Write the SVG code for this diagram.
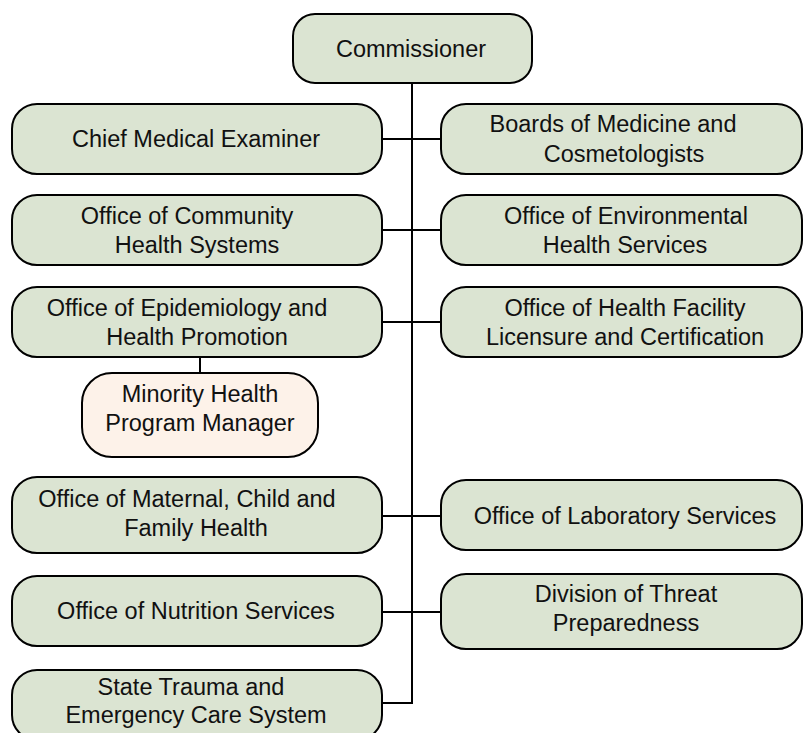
<svg xmlns="http://www.w3.org/2000/svg" width="804" height="733" viewBox="0 0 804 733">
<style>
.n{fill:#dbe4d2;stroke:#000;stroke-width:2}
.p{fill:#fdf2e9;stroke:#000;stroke-width:2}
.c{fill:none;stroke:#000;stroke-width:2}
text{font-family:"Liberation Sans",Arial,sans-serif;font-size:23.5px;fill:#111;text-anchor:middle}
</style>
<rect width="804" height="733" fill="#fff"/>
<g id="connectors">
<path class="c" d="M412 83V703H382"/>
<path class="c" d="M382 139H441M382 230H441M382 322H441M382 516H441M382 612H441"/>
<path class="c" d="M200 357V373"/>
</g>
<g id="commissioner"><rect class="n" x="293" y="14" width="239" height="69" rx="22"/><text x="411" y="57">Commissioner</text></g>
<g id="chief-medical-examiner"><rect class="n" x="12" y="104" width="370" height="70" rx="25"/><text x="196" y="147">Chief Medical Examiner</text></g>
<g id="boards"><rect class="n" x="441" y="104" width="361" height="70" rx="25"/><text x="613" y="132">Boards of Medicine and</text><text x="624" y="162">Cosmetologists</text></g>
<g id="community-health"><rect class="n" x="12" y="195" width="370" height="70" rx="25"/><text x="187" y="224">Office of Community</text><text x="197" y="253">Health Systems</text></g>
<g id="environmental-health"><rect class="n" x="441" y="195" width="361" height="70" rx="25"/><text x="626" y="224">Office of Environmental</text><text x="625" y="253">Health Services</text></g>
<g id="epidemiology"><rect class="n" x="12" y="287" width="370" height="70" rx="25"/><text x="187" y="316">Office of Epidemiology and</text><text x="197" y="345">Health Promotion</text></g>
<g id="health-facility"><rect class="n" x="441" y="287" width="361" height="70" rx="25"/><text x="625" y="316">Office of Health Facility</text><text x="625" y="345">Licensure and Certification</text></g>
<g id="minority-health"><rect class="p" x="82" y="373" width="236" height="84" rx="30"/><text x="200" y="402">Minority Health</text><text x="200" y="431">Program Manager</text></g>
<g id="maternal-child"><rect class="n" x="12" y="477" width="370" height="76" rx="25"/><text x="187" y="507">Office of Maternal, Child and</text><text x="196" y="536">Family Health</text></g>
<g id="laboratory"><rect class="n" x="441" y="480" width="361" height="70" rx="25"/><text x="625" y="524">Office of Laboratory Services</text></g>
<g id="nutrition"><rect class="n" x="12" y="576" width="370" height="70" rx="25"/><text x="196" y="619">Office of Nutrition Services</text></g>
<g id="threat-preparedness"><rect class="n" x="441" y="574" width="361" height="75" rx="25"/><text x="626" y="602">Division of Threat</text><text x="626" y="631">Preparedness</text></g>
<g id="state-trauma"><rect class="n" x="12" y="670" width="370" height="70" rx="25"/><text x="191" y="695">State Trauma and</text><text x="196" y="723">Emergency Care System</text></g>
</svg>
